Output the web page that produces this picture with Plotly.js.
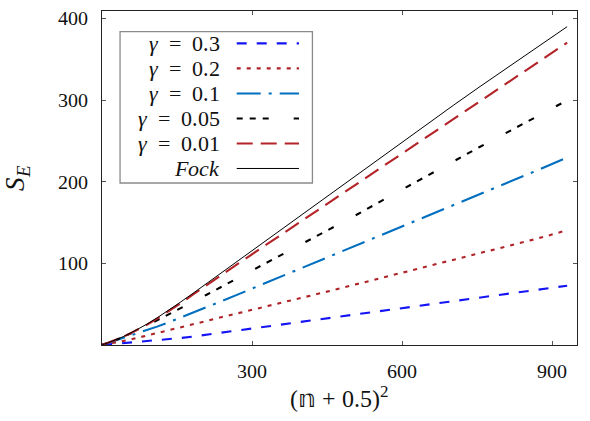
<!DOCTYPE html>
<html>
<head>
<meta charset="utf-8">
<script src="https://cdn.plot.ly/plotly-3.0.1.min.js"></script>
<style>
  @font-face { font-family: 'PlotSerif'; font-style: normal; font-weight: 400;
    src: local('Liberation Serif'), local('LiberationSerif'), local('LiberationSerif-Regular'); }
  @font-face { font-family: 'PlotSerif'; font-style: italic; font-weight: 400;
    src: local('Liberation Serif Italic'), local('LiberationSerif-Italic'); }
  html, body { margin: 0; padding: 0; background: #fff; }
  #chart { width: 590px; height: 421px; }
</style>
</head>
<body>
<div id="chart"></div>
<script>
// Horizontal coordinate: (n + 0.5)^2 for n = 0 .. 30
const xSq = [0.25, 2.25, 6.25, 12.25, 20.25, 30.25, 42.25, 56.25, 72.25, 90.25,
  110.25, 132.25, 156.25, 182.25, 210.25, 240.25, 272.25, 306.25, 342.25, 380.25,
  420.25, 462.25, 506.25, 552.25, 600.25, 650.25, 702.25, 756.25, 812.25, 870.25, 930.25];

// Entropy S_E for the Fock state and each damping value gamma
const sFock = [0.2, 0.8, 1.5, 2.7, 4.5, 7.0, 10.2, 14.3, 19.4, 25.7,
  33.3, 42.1, 52.2, 63.4, 75.8, 89.2, 103.4, 118.6, 134.6, 151.5,
  169.3, 188.0, 207.5, 227.7, 248.8, 270.8, 293.3, 316.6, 340.5, 365.1, 389.8];
const sG001 = [0.2, 0.8, 1.5, 2.7, 4.5, 7.0, 10.1, 14.1, 19.1, 25.0,
  32.2, 40.8, 50.6, 61.9, 73.9, 86.4, 99.6, 113.6, 128.4, 144.0,
  160.4, 177.6, 195.6, 214.5, 234.2, 254.7, 276.0, 298.5, 321.6, 345.4, 370.2];
const sG005 = [0.2, 0.7, 1.4, 2.6, 4.3, 6.7, 9.8, 13.5, 18.3, 24.0,
  30.5, 37.5, 45.0, 52.9, 61.9, 71.7, 82.0, 93.0, 104.7, 117.0,
  129.9, 143.5, 158.5, 174.2, 190.5, 207.5, 225.4, 242.8, 261.0, 279.7, 299.6];
const sG01 = [0.1, 0.5, 1.2, 2.3, 3.8, 5.7, 8.0, 10.8, 14.2, 18.0,
  22.5, 27.6, 33.3, 39.4, 46.3, 53.9, 62.0, 70.6, 79.7, 89.4,
  99.5, 110.2, 121.5, 133.3, 145.6, 158.4, 171.7, 185.3, 199.3, 213.8, 229.5];
const sG02 = [0.1, 0.3, 0.8, 1.5, 2.4, 3.5, 4.9, 6.6, 8.9, 11.6,
  14.6, 17.9, 21.5, 25.4, 29.6, 34.2, 39.1, 44.3, 49.2, 54.9,
  60.9, 67.2, 73.9, 80.9, 88.2, 95.8, 103.8, 112.2, 121.0, 130.2, 140.5];
const sG03 = [0.0, 0.1, 0.3, 0.6, 1.0, 1.5, 2.1, 2.8, 3.6, 4.6,
  5.7, 7.0, 8.5, 10.4, 12.7, 15.1, 17.7, 20.5, 23.5, 26.6,
  29.9, 33.4, 37.0, 40.8, 44.7, 48.8, 53.1, 57.7, 62.6, 67.5, 72.6];

const seriesLabels = ['<i>γ</i>\u2002=\u20020.3', '<i>γ</i>\u2002=\u20020.2', '<i>γ</i>\u2002=\u20020.1',
  '<i>γ</i>\u2002=\u20020.05', '<i>γ</i>\u2002=\u20020.01', '<i>Fock</i>'];
const xTicks = [300, 600, 900];
const yTicks = [100, 200, 300, 400];

const SERIF = 'PlotSerif, "Liberation Serif", serif';

const styles = [
  { data: sG03,  color: 'rgb(20,20,245)',  width: 2.1, dash: '10px,10px' },
  { data: sG02,  color: 'rgb(175,35,40)',  width: 2.1, dash: '4px,6px' },
  { data: sG01,  color: 'rgb(0,110,190)',  width: 2.1, dash: '24px,8px,3px,8px' },
  { data: sG005, color: 'rgb(0,0,0)',      width: 2.1, dash: '6px,7px,6px,7px,6px,25px' },
  { data: sG001, color: 'rgb(180,35,40)',  width: 2.1, dash: '16px,8px' },
  { data: sFock, color: 'rgb(0,0,0)',      width: 1.0, dash: 'solid' }
];

const traces = styles.map((s, i) => ({
  x: xSq, y: s.data, type: 'scatter', mode: 'lines', name: seriesLabels[i],
  line: { color: s.color, width: s.width, dash: s.dash }, showlegend: false
}));

// Hand-built key: labels on the left, line samples on the right, inside a box
const shapes = [{
  type: 'rect', xref: 'paper', yref: 'paper',
  x0: 0.038, x1: 0.443, y0: 0.485, y1: 0.938,
  line: { color: '#8a8a8a', width: 1.3 }, fillcolor: '#ffffff', layer: 'above'
}];
const annotations = [];
const rowTop = 0.903, rowStep = 0.0749;
styles.forEach((s, i) => {
  const y = rowTop - i * rowStep;
  annotations.push({
    xref: 'paper', yref: 'paper', x: 0.253, y: y, xanchor: 'right', yanchor: 'middle',
    text: seriesLabels[i], showarrow: false,
    font: { family: SERIF, size: 22, color: '#111' }
  });
  shapes.push({
    type: 'line', xref: 'paper', yref: 'paper', x0: 0.2836, x1: 0.4147, y0: y, y1: y,
    line: { color: s.color, width: s.width, dash: s.dash }, layer: 'above'
  });
});

const axisCommon = {
  showline: true, mirror: 'ticks', linecolor: '#222', linewidth: 1,
  ticks: 'inside', ticklen: 4, tickcolor: '#555', tickwidth: 1,
  showgrid: false, zeroline: false,
  tickfont: { family: SERIF, size: 20, color: '#111' }
};

const layout = {
  width: 590, height: 421,
  margin: { l: 102, r: 13, t: 11, b: 76 },
  paper_bgcolor: '#fff', plot_bgcolor: '#fff',
  font: { family: SERIF, size: 20, color: '#111' },
  xaxis: Object.assign({}, axisCommon, {
    range: [0, 950], tickvals: xTicks, ticktext: xTicks.map(String),
    ticklabelstandoff: 8,
    title: { text: '(𝕟 + 0.5)<sup>2</sup>', standoff: 8,
      font: { family: SERIF, size: 24, color: '#111' } }
  }),
  yaxis: Object.assign({}, axisCommon, {
    range: [0, 409], tickvals: yTicks, ticktext: yTicks.map(String),
    ticklabelstandoff: 9,
    title: { text: '<i>S<sub>E</sub></i>', standoff: 31,
      font: { family: SERIF, size: 27, color: '#111' } }
  }),
  shapes: shapes,
  annotations: annotations
};

Plotly.newPlot('chart', traces, layout, { staticPlot: true, displayModeBar: false });
</script>
</body>
</html>
